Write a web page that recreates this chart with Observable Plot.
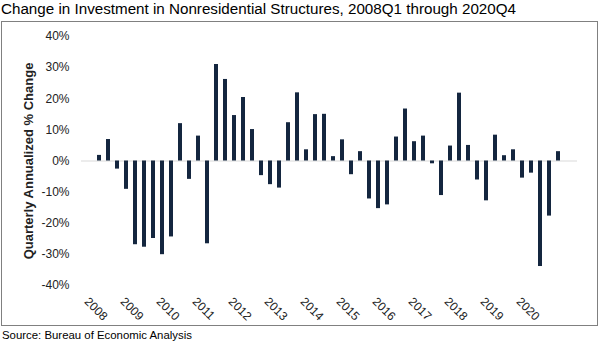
<!DOCTYPE html>
<html>
<head>
<meta charset="utf-8">
<script src="https://cdn.jsdelivr.net/npm/d3@7"></script>
<script src="https://cdn.jsdelivr.net/npm/@observablehq/plot@0.6"></script>
<style>
  html, body { margin: 0; padding: 0; background: #fff; }
  body { width: 600px; height: 345px; position: relative; overflow: hidden;
         font-family: "Liberation Sans", Arial, sans-serif; color: #000; }
  #title { position: absolute; left: 1px; top: 0px; font-size: 15.2px; white-space: nowrap; }
  #box { position: absolute; left: 1px; top: 21px; width: 595px; height: 303px; border: 1px solid #808080; }
  #chart { position: absolute; left: 0; top: 21px; }
  #source { position: absolute; left: 2px; top: 329px; font-size: 11.4px; white-space: nowrap; }
  #chart svg { font-family: "Liberation Sans", Arial, sans-serif; }
  #chart [aria-label="y-axis label"] { font-weight: bold; font-size: 13px; }
</style>
</head>
<body>
<div id="title">Change in Investment in Nonresidential Structures, 2008Q1 through 2020Q4</div>
<div id="box"></div>
<div id="chart"></div>
<div id="source">Source: Bureau of Economic Analysis</div>
<script>
const years = [2008, 2009, 2010, 2011, 2012, 2013, 2014, 2015, 2016, 2017, 2018, 2019, 2020];
const quarterNames = ["Q1", "Q2", "Q3", "Q4"];
const changes = [
  1.8, 6.9, -2.6, -9.1,
  -26.9, -27.7, -24.9, -30.1,
  -24.4, 12.0, -5.9, 8.0,
  -26.6, 31.0, 26.2, 14.6,
  20.4, 10.1, -4.7, -7.6,
  -8.7, 12.3, 21.9, 3.6,
  14.9, 15.0, 1.4, 6.8,
  -4.4, 3.0, -12.2, -15.3,
  -14.1, 7.7, 16.7, 6.2,
  8.0, -0.9, -11.1, 4.8,
  21.8, 5.0, -6.1, -12.8,
  8.3, 1.7, 3.6, -5.5,
  -3.9, -33.9, -17.7, 3.0
];
const yTicks = [-40, -30, -20, -10, 0, 10, 20, 30, 40];

const quarters = years.flatMap(y => quarterNames.map(q => `${y}${q}`));
const data = quarters.map((q, i) => ({q, v: changes[i]}));

const chart = Plot.plot({
  width: 600,
  height: 304,
  marginLeft: 81,
  marginRight: 23,
  marginTop: 15,
  marginBottom: 40,
  style: {fontSize: "12px", color: "#222", background: "transparent"},
  x: {type: "band", domain: quarters, paddingInner: 0.53, paddingOuter: 0.265, align: 0.5},
  y: {domain: [-40, 40]},
  marks: [
    Plot.ruleY([0], {stroke: "#d9d9d9", strokeWidth: 1}),
    Plot.barY(data, {x: "q", y: "v", fill: "#14263f"}),
    Plot.axisY({
      ticks: yTicks,
      tickFormat: d => `${d}%`,
      tickSize: 0,
      tickPadding: 12,
      label: "Quarterly Annualized % Change",
      labelAnchor: "center",
      labelArrow: "none",
      labelOffset: 58
    }),
    Plot.axisX({
      ticks: quarters.filter(q => q.endsWith("Q1")),
      tickFormat: d => d.slice(0, 4),
      tickSize: 0,
      tickPadding: 8,
      tickRotate: 45,
      dx: -13,
      dy: 6,
      label: null
    })
  ]
});
document.getElementById("chart").appendChild(chart);
</script>
</body>
</html>
